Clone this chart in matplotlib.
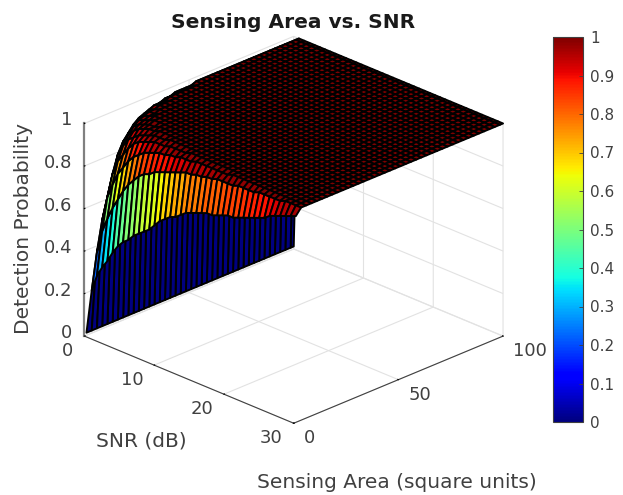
import matplotlib
matplotlib.use("Agg")
import matplotlib.pyplot as plt
import numpy as np
from matplotlib.cm import ScalarMappable
from matplotlib.colors import Normalize
from mpl_toolkits.mplot3d import proj3d

W, H = 623, 495

# grid of the surface
snr_db = [0.75 * k for k in range(41)]
area = [1 + 2.5 * k for k in range(40)] + [100]

# detection probability, one row per SNR value.
# each row stops where the surface reaches 1, the rest of the row is 1
row_snr0 = [0.012] * 41
p_rows = [
    [.22, .39, .53, .63, .71, .78, .83, .86, .89, .92, .94, .95, .96, .97, .98, .98, .99, .99, .99, .99],
    [.30, .50, .65, .75, .83, .88, .91, .94, .96, .97, .98, .99, .99, .99],
    [.35, .57, .72, .82, .88, .92, .95, .97, .98, .99, .99],
    [.39, .63, .78, .86, .92, .95, .97, .98, .99, .99],
    [.44, .68, .82, .90, .94, .97, .98, .99],
    [.48, .73, .86, .93, .96, .98, .99],
    [.51, .77, .89, .95, .97, .99, .99],
    [.53, .80, .91, .96, .98, .99],
    [.56, .83, .93, .97, .99],
    [.58, .85, .94, .98, .99],
    [.60, .86, .95, .98, .99],
    [.62, .88, .96, .98],
    [.65, .89, .96, .99],
    [.68, .90, .97, .99],
    [.70, .91, .97, .99],
    [.72, .92, .98, .99],
    [.73, .93, .98],
    [.75, .94, .98],
    [.77, .94, .99],
    [.78, .95, .99],
    [.79, .95, .99],
    [.80, .96, .99],
    [.81, .96, .99],
    [.81, .97, .99],
    [.82, .97, .99],
    [.83, .97],
    [.84, .97],
    [.84, .98],
    [.85, .98],
    [.86, .98],
    [.87, .98],
    [.88, .99],
    [.89, .99],
    [.90, .99],
    [.92, .99],
    [.93, .99],
    [.94],
    [.95],
    [.96],
    [.97],
]

area_ticks = [0, 50, 100]
snr_ticks = [0, 10, 20, 30]
prob_ticks = [0, 0.2, 0.4, 0.6, 0.8, 1]
colorbar_ticks = [0, 0.1, 0.2, 0.3, 0.4, 0.5, 0.6, 0.7, 0.8, 0.9, 1]


def px_axes(fig, left, top, right, bottom, **kw):
    # axes given in image pixels, y going down
    return fig.add_axes([left / W, 1 - bottom / H, (right - left) / W, (bottom - top) / H], **kw)


def main():
    plt.rcParams["font.family"] = "DejaVu Sans"
    text_color = "#404040"

    prob = np.array([row_snr0] + [r + [1.0] * (len(area) - len(r)) for r in p_rows])
    X, Y = np.meshgrid(area, snr_db)
    jet = plt.get_cmap("jet", 64)
    norm = Normalize(0, 1)

    fig = plt.figure(figsize=(W / 100, H / 100), dpi=100)

    # Main surface, axes made large so the corners are not clipped
    ax = px_axes(fig, 57.5, 6, 517.5, 466, projection="3d", proj_type="ortho")
    ax.view_init(elev=24.6, azim=-135)
    ax.set_box_aspect((1, 1, 0.79), zoom=1.012)
    ax.plot_surface(X, Y, prob, facecolors=jet(norm(prob)), rstride=1, cstride=1,
                    shade=False, edgecolor="black", linewidth=1.4, antialiased=True)

    ax.set_xlim(0, 100)
    ax.set_ylim(30, 0)
    ax.set_zlim(0, 1)
    ax.set_xticks(area_ticks)
    ax.set_yticks(snr_ticks)
    ax.set_zticks(prob_ticks)
    ax.set_xticklabels([])
    ax.set_yticklabels([])
    ax.set_zticklabels([])

    for axis in (ax.xaxis, ax.yaxis, ax.zaxis):
        axis.set_pane_color((1, 1, 1, 0))
        axis.pane.set_edgecolor((1, 1, 1, 0))
        axis._axinfo["grid"]["color"] = "#e2e2e2"
        axis._axinfo["grid"]["linewidth"] = 0.8
        axis._axinfo["tick"]["inward_factor"] = 0.0
        axis._axinfo["tick"]["outward_factor"] = 0.03
        axis.line.set_color("#404040")
    ax.zaxis.line.set_color("#808080")
    ax.zaxis.line.set_linewidth(1.6)

    # Tick labels, placed next to the projected tick position (offsets in pixels)
    fig.canvas.draw()

    def tick_label(x, y, z, text, dx, dy, ha):
        u, v, _ = proj3d.proj_transform(x, y, z, ax.get_proj())
        px, py = ax.transData.transform((u, v))
        fig.text(px + dx, py + dy, text, transform=None, ha=ha, va="center",
                 fontsize=13, color=text_color)

    for a in area_ticks:
        tick_label(a, 30, 0, str(a), 10, -15, "left")
    for s in snr_ticks:
        tick_label(0, s, 0, str(s), -11, -15, "right")
    for p in prob_ticks:
        tick_label(0, 0, p, f"{p:g}", -12, 3, "right")

    # Labels sit at fixed spots on the figure
    fig.text(293 / W, 1 - 22 / H, "Sensing Area vs. SNR", ha="center", va="center",
             fontsize=14.5, fontweight="bold", color="#1a1a1a")
    fig.text(397 / W, 1 - 482 / H, "Sensing Area (square units)", ha="center", va="center",
             fontsize=14.5, color=text_color)
    fig.text(141 / W, 1 - 441 / H, "SNR (dB)", ha="center", va="center",
             fontsize=14.5, color=text_color)
    fig.text(24 / W, 1 - 229 / H, "Detection Probability", ha="center", va="center",
             rotation=90, fontsize=14.5, color=text_color)

    # Colorbar
    cax = px_axes(fig, 553, 37, 583, 422)
    cbar = fig.colorbar(ScalarMappable(norm=norm, cmap="jet"), cax=cax, ticks=colorbar_ticks)
    cbar.ax.set_yticklabels([f"{t:g}" for t in colorbar_ticks])
    cbar.ax.tick_params(direction="in", length=3, width=0.6, labelsize=11,
                        colors=text_color, pad=5)
    cbar.outline.set_edgecolor("#404040")
    cbar.outline.set_linewidth(0.8)

    fig.savefig("out.png", dpi=100)


if __name__ == "__main__":
    main()
